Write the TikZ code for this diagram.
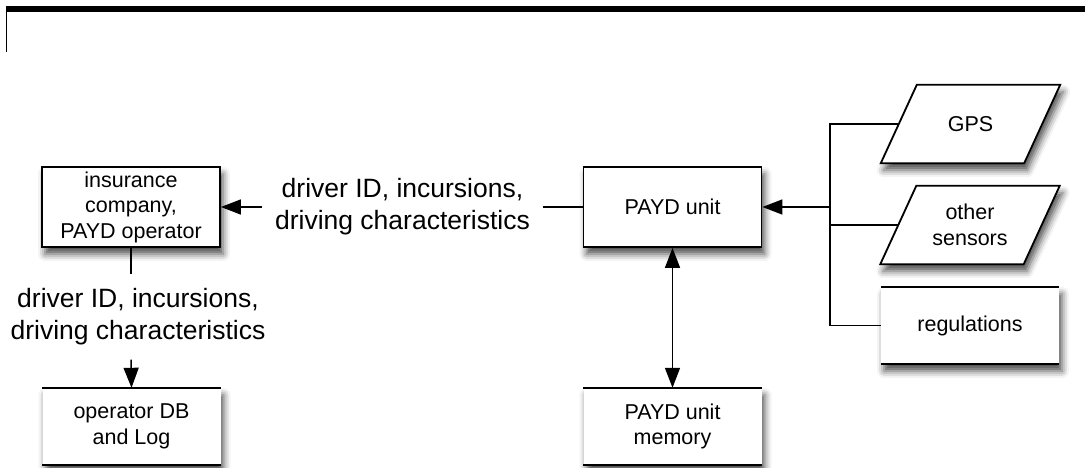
\documentclass[tikz,border=0pt]{standalone}
\usepackage{fontspec}
\setmainfont{Liberation Sans}
\usetikzlibrary{arrows.meta,shadows.blur,backgrounds}

\tikzset{
  softshadow/.style={blur shadow={shadow xshift=3pt, shadow yshift=-7pt,
      shadow blur radius=7pt, shadow opacity=70}},
  procbox/.style={draw, line width=1.8pt, fill=white, softshadow,
      minimum width=178pt, minimum height=80pt, inner sep=0pt, align=center,
      font=\fontsize{21.5pt}{25.5pt}\selectfont},
  storebox/.style={fill=white, softshadow,
      minimum width=178pt, minimum height=77pt, inner sep=0pt, align=center,
      font=\fontsize{21.5pt}{25.5pt}\selectfont},
  inputbox/.style={minimum width=143pt, minimum height=78pt, inner sep=0pt,
      align=center, font=\fontsize{21.5pt}{25.5pt}\selectfont},
  flowlabel/.style={align=center, inner xsep=13pt, inner ysep=14pt,
      font=\fontsize{26.5pt}{32pt}\selectfont},
  wire/.style={line width=1.5pt},
  arrowwire/.style={wire, -{Triangle[length=20pt,width=15pt]}},
  bothwire/.style={wire, {Triangle[length=20pt,width=15pt]}-{Triangle[length=20pt,width=15pt]}},
  edge/.style={line width=1.8pt}
}

\begin{document}
\begin{tikzpicture}[x=1pt,y=-1pt]
\useasboundingbox (0,0) rectangle (1085,468);

% page header rule
\fill[black] (6,6) rectangle (1085,12);
\draw[line width=1.3pt] (6.6,12) -- (6.6,52);

% processes
\node[procbox] (ins) at (131,207) {insurance\\company,\\PAYD operator};
\node[procbox] (payd) at (672.5,207) {PAYD unit};

% data stores
\node[storebox] (opdb) at (131.5,426.5) {operator DB\\and Log};
\node[storebox] (mem) at (672.5,426.5) {PAYD unit\\memory};
\node[storebox] (reg) at (970,325.5) {regulations};
\foreach \s in {opdb,mem,reg}{
  \draw[edge] (\s.north west) -- (\s.north east);
  \draw[edge] (\s.south west) -- (\s.south east);
}

% inputs
\node[inputbox] (gps) at (970.5,124) {GPS};
\node[inputbox] (oth) at (970,225) {other\\sensors};
\begin{scope}[on background layer]
  \foreach \s in {gps,oth}{
    \filldraw[edge, fill=white, softshadow]
      ([xshift=18pt]\s.north west) -- ([xshift=18pt]\s.north east)
      -- ([xshift=-18pt]\s.south east) -- ([xshift=-18pt]\s.south west) -- cycle;
  }
\end{scope}

% flow labels
\node[flowlabel] (lab1) at (402.5,207) {driver ID, incursions,\\driving characteristics};
\node[flowlabel] (lab2) at (138,317) {driver ID, incursions,\\driving characteristics};

% connectors
\draw[wire] (payd.west) -- (payd.west -| lab1.east);
\draw[arrowwire] (ins.east -| lab1.west) -- (ins.east);
\draw[wire] (ins.south) -- (ins.south |- lab2.north);
\draw[arrowwire] (ins.south |- lab2.south) -- (opdb.north);
\draw[bothwire] (payd.south) -- (mem.north);

\coordinate (bus) at (830,207);
\draw[wire] (gps.west) -- (gps.west -| bus) -- (reg.west -| bus) -- (reg.west);
\draw[wire] (oth.west) -- (oth.west -| bus);
\draw[arrowwire] (bus) -- (payd.east);
\end{tikzpicture}
\end{document}
